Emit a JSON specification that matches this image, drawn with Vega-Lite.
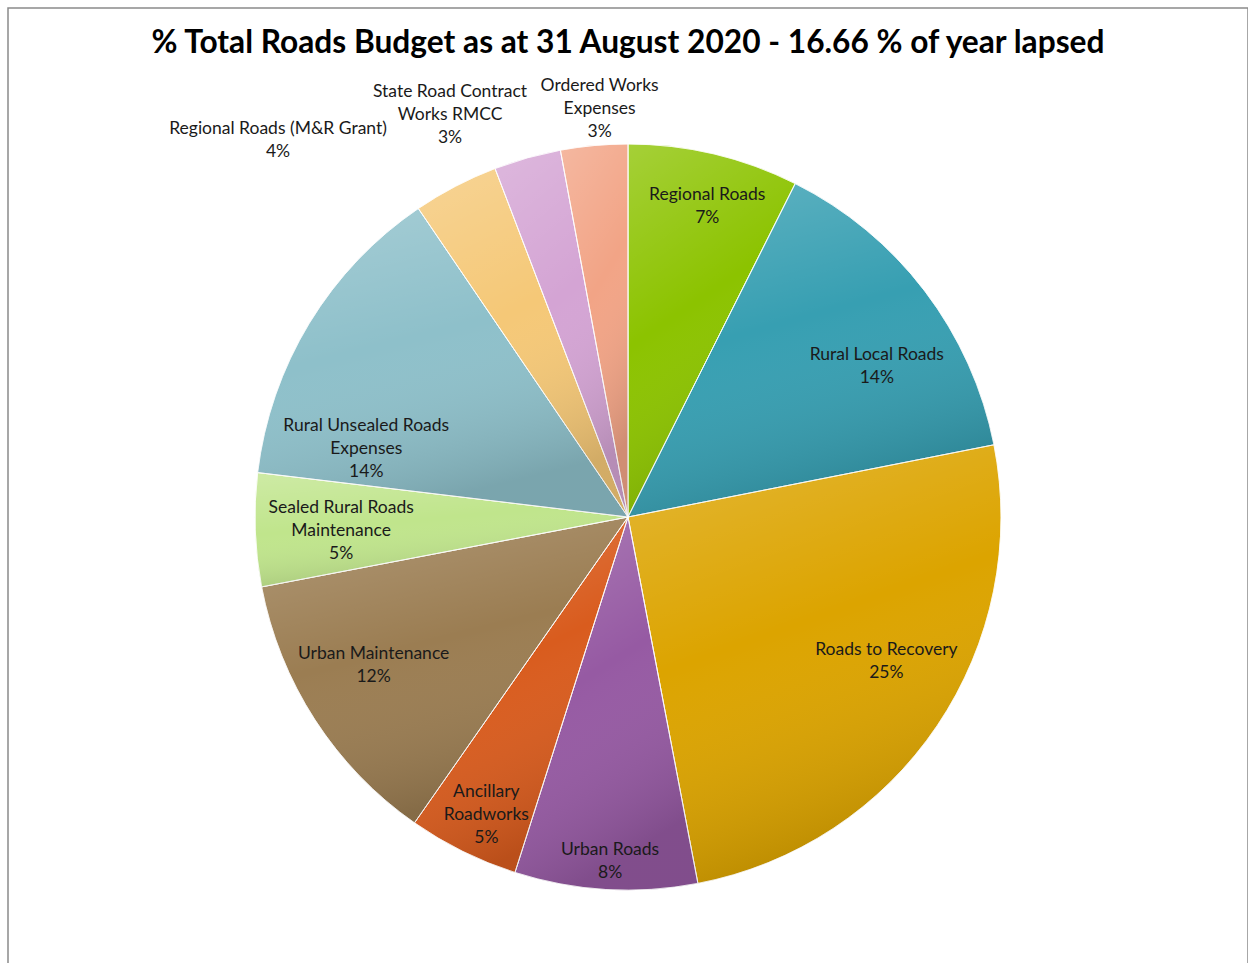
{
  "$schema": "https://vega.github.io/schema/vega-lite/v6.json",
  "width": 1240,
  "height": 1018,
  "autosize": {"type": "none"},
  "padding": {"left": 8, "top": 8, "right": 0, "bottom": 0},
  "background": "white",
  "view": {"stroke": "#8a8a8a", "strokeWidth": 1.5},
  "config": {"view": {"stroke": "#8a8a8a", "strokeWidth": 1.5}},
  "title": {
    "text": "% Total Roads Budget as at 31 August 2020 - 16.66 % of year lapsed",
    "font": "Lato",
    "fontSize": 31.7,
    "fontWeight": "bold",
    "color": "#000000",
    "anchor": "middle",
    "baseline": "alphabetic",
    "offset": -77,
    "frame": "group"
  },
  "data": {
    "values": [
      {"idx": 1, "category": "Regional Roads", "value": 7.4, "label": ["Regional Roads", "7%"]},
      {"idx": 2, "category": "Rural Local Roads", "value": 14.5, "label": ["Rural Local Roads", "14%"]},
      {"idx": 3, "category": "Roads to Recovery", "value": 25.1, "label": ["Roads to Recovery", "25%"]},
      {"idx": 4, "category": "Urban Roads", "value": 7.9, "label": ["Urban Roads", "8%"]},
      {"idx": 5, "category": "Ancillary Roadworks", "value": 4.8, "label": ["Ancillary", "Roadworks", "5%"]},
      {"idx": 6, "category": "Urban Maintenance", "value": 12.3, "label": ["Urban Maintenance", "12%"]},
      {"idx": 7, "category": "Sealed Rural Roads Maintenance", "value": 4.9, "label": ["Sealed Rural Roads", "Maintenance", "5%"]},
      {"idx": 8, "category": "Rural Unsealed Roads Expenses", "value": 13.6, "label": ["Rural Unsealed  Roads", "Expenses", "14%"]},
      {"idx": 9, "category": "Regional Roads (M&R Grant)", "value": 3.7, "label": ["Regional Roads (M&R Grant)", "4%"]},
      {"idx": 10, "category": "State Road Contract Works RMCC", "value": 2.9, "label": ["State Road Contract", "Works RMCC", "3%"]},
      {"idx": 11, "category": "Ordered Works Expenses", "value": 2.9, "label": ["Ordered Works", "Expenses", "3%"]}
    ]
  },
  "encoding": {
    "theta": {"field": "value", "type": "quantitative", "stack": true},
    "order": {"field": "idx", "type": "quantitative"}
  },
  "layer": [
    {
      "mark": {"type": "arc", "outerRadius": 373, "stroke": "#ffffff", "strokeWidth": 1, "strokeOpacity": 0.7},
      "encoding": {
        "color": {
          "field": "category",
          "type": "nominal",
          "legend": null,
          "scale": {
            "domain": ["Regional Roads", "Rural Local Roads", "Roads to Recovery", "Urban Roads", "Ancillary Roadworks", "Urban Maintenance", "Sealed Rural Roads Maintenance", "Rural Unsealed Roads Expenses", "Regional Roads (M&R Grant)", "State Road Contract Works RMCC", "Ordered Works Expenses"],
            "range": ["#8cc300", "#379fb2", "#dca400", "#965aa3", "#d95c1e", "#9b7d52", "#c0e58c", "#8ec0ca", "#f5c877", "#d4a4d4", "#f2a486"]
          }
        }
      }
    },
    {
      "mark": {
        "type": "arc",
        "outerRadius": 373,
        "fill": {
          "gradient": "linear",
          "x1": 0, "y1": 0, "x2": 0.3, "y2": 1,
          "stops": [
            {"offset": 0, "color": "rgba(255,255,255,0.22)"},
            {"offset": 0.5, "color": "rgba(255,255,255,0)"},
            {"offset": 1, "color": "rgba(0,0,0,0.14)"}
          ]
        },
        "stroke": "#ffffff",
        "strokeWidth": 1,
        "strokeOpacity": 0.5
      },
      "encoding": {"detail": {"field": "category", "type": "nominal"}}
    },
    {
      "mark": {"type": "text", "radius": 290, "dx": -11, "dy": -21, "font": "Lato", "fontSize": 17.5, "lineHeight": 23, "color": "#1a1a1a", "align": "center", "baseline": "middle"},
      "encoding": {
        "detail": {"field": "category", "type": "nominal"},
        "text": {"condition": {"test": "datum.category == 'Urban Maintenance'", "field": "label", "type": "nominal"}, "value": ""}
      }
    },
    {
      "mark": {"type": "text", "radius": 290, "dx": 3, "dy": -19, "font": "Lato", "fontSize": 17.5, "lineHeight": 23, "color": "#1a1a1a", "align": "center", "baseline": "middle"},
      "encoding": {
        "detail": {"field": "category", "type": "nominal"},
        "text": {"condition": {"test": "datum.category == 'Sealed Rural Roads Maintenance'", "field": "label", "type": "nominal"}, "value": ""}
      }
    },
    {
      "mark": {"type": "text", "radius": 290, "dx": 18, "dy": 14, "font": "Lato", "fontSize": 17.5, "lineHeight": 23, "color": "#1a1a1a", "align": "center", "baseline": "middle"},
      "encoding": {
        "detail": {"field": "category", "type": "nominal"},
        "text": {"condition": {"test": "datum.category == 'Rural Local Roads'", "field": "label", "type": "nominal"}, "value": ""}
      }
    },
    {
      "mark": {"type": "text", "radius": 290, "dx": 18, "dy": -29, "font": "Lato", "fontSize": 17.5, "lineHeight": 23, "color": "#1a1a1a", "align": "center", "baseline": "middle"},
      "encoding": {
        "detail": {"field": "category", "type": "nominal"},
        "text": {"condition": {"test": "datum.category == 'Roads to Recovery'", "field": "label", "type": "nominal"}, "value": ""}
      }
    },
    {
      "mark": {"type": "text", "radius": 331, "dx": 3, "font": "Lato", "fontSize": 17.5, "lineHeight": 23, "color": "#1a1a1a", "align": "center", "baseline": "middle"},
      "encoding": {
        "detail": {"field": "category", "type": "nominal"},
        "text": {"condition": {"test": "datum.category == 'Regional Roads'", "field": "label", "type": "nominal"}, "value": ""}
      }
    },
    {
      "mark": {"type": "text", "radius": 334, "dx": 2, "font": "Lato", "fontSize": 17.5, "lineHeight": 23, "color": "#1a1a1a", "align": "center", "baseline": "middle"},
      "encoding": {
        "detail": {"field": "category", "type": "nominal"},
        "text": {"condition": {"test": "datum.category == 'Urban Roads'", "field": "label", "type": "nominal"}, "value": ""}
      }
    },
    {
      "mark": {"type": "text", "radius": 338, "dx": 8, "dy": -28, "font": "Lato", "fontSize": 17.5, "lineHeight": 23, "color": "#1a1a1a", "align": "center", "baseline": "middle"},
      "encoding": {
        "detail": {"field": "category", "type": "nominal"},
        "text": {"condition": {"test": "datum.category == 'Ancillary Roadworks'", "field": "label", "type": "nominal"}, "value": ""}
      }
    },
    {
      "mark": {"type": "text", "radius": 290, "dx": -14, "dy": 60, "font": "Lato", "fontSize": 17.5, "lineHeight": 23, "color": "#1a1a1a", "align": "center", "baseline": "middle"},
      "encoding": {
        "detail": {"field": "category", "type": "nominal"},
        "text": {"condition": {"test": "datum.category == 'Rural Unsealed Roads Expenses'", "field": "label", "type": "nominal"}, "value": ""}
      }
    },
    {
      "mark": {"type": "text", "radius": 400, "dx": -165, "dy": -33, "font": "Lato", "fontSize": 17.5, "lineHeight": 23, "color": "#1a1a1a", "align": "center", "baseline": "middle"},
      "encoding": {
        "detail": {"field": "category", "type": "nominal"},
        "text": {"condition": {"test": "datum.category == 'Regional Roads (M&R Grant)'", "field": "label", "type": "nominal"}, "value": ""}
      }
    },
    {
      "mark": {"type": "text", "radius": 400, "dx": -70, "dy": -40, "font": "Lato", "fontSize": 17.5, "lineHeight": 23, "color": "#1a1a1a", "align": "center", "baseline": "middle"},
      "encoding": {
        "detail": {"field": "category", "type": "nominal"},
        "text": {"condition": {"test": "datum.category == 'State Road Contract Works RMCC'", "field": "label", "type": "nominal"}, "value": ""}
      }
    },
    {
      "mark": {"type": "text", "radius": 400, "dx": 8, "dy": -33, "font": "Lato", "fontSize": 17.5, "lineHeight": 23, "color": "#1a1a1a", "align": "center", "baseline": "middle"},
      "encoding": {
        "detail": {"field": "category", "type": "nominal"},
        "text": {"condition": {"test": "datum.category == 'Ordered Works Expenses'", "field": "label", "type": "nominal"}, "value": ""}
      }
    }
  ]
}
